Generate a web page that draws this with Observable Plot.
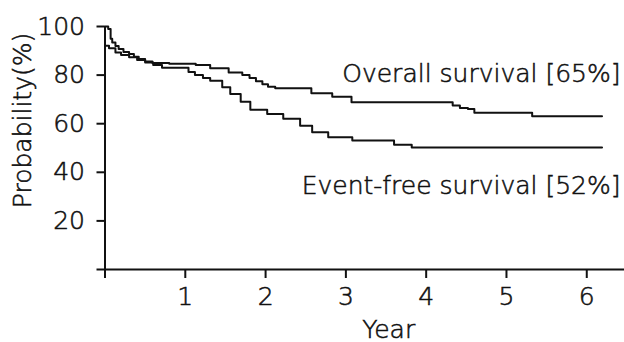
<!DOCTYPE html>
<html>
<head>
<meta charset="utf-8">
<script src="https://cdn.jsdelivr.net/npm/d3@7"></script>
<script src="https://cdn.jsdelivr.net/npm/@observablehq/plot@0.6"></script>
<style>
  html, body { margin: 0; padding: 0; background: #fff; }
  #chart { width: 624px; height: 342px; overflow: hidden; }
  #chart svg text { stroke: #111; stroke-width: 0.55px; }
</style>
</head>
<body>
<div id="chart"></div>
<script>
// Overall survival (Kaplan–Meier steps)
const osYears  = [0, 0.04, 0.07, 0.09, 0.13, 0.17, 0.23, 0.30, 0.36, 0.42, 0.50, 0.59, 0.80, 1.13, 1.31, 1.54, 1.71, 1.80, 1.88, 1.96, 2.03, 2.12, 2.57, 2.83, 3.07, 4.33, 4.42, 4.52, 4.60, 5.32, 6.19];
const osValues = [100, 99, 95, 93.4, 92, 90.7, 89.5, 88.7, 87.6, 86.6, 85.6, 85, 84.7, 84.2, 82.8, 81.1, 80.0, 78.8, 77.5, 76.2, 75.2, 74.6, 72.5, 71.1, 68.8, 67.5, 66.5, 66.1, 64.5, 63.1, 63.1];

// Event-free survival
const efsYears  = [0, 0.05, 0.13, 0.20, 0.30, 0.40, 0.50, 0.60, 0.71, 1.04, 1.12, 1.22, 1.31, 1.46, 1.56, 1.69, 1.81, 2.02, 2.22, 2.43, 2.58, 2.78, 3.08, 3.60, 3.82, 6.19];
const efsValues = [92.1, 91, 89.3, 88.3, 87.3, 86.2, 85.2, 84.2, 83.0, 81.3, 80.0, 78.8, 77.7, 75, 72.2, 69, 65.7, 64, 62, 59.2, 56.5, 54.4, 53.1, 51.3, 50.2, 50.2];

const seriesLabels = ["Overall survival [65%]", "Event-free survival [52%]"];
const xTicks = [0, 1, 2, 3, 4, 5, 6];
const yTicks = [0, 20, 40, 60, 80, 100];
const xTitle = "Year";
const yTitle = "Probability(%)";

const os = osYears.map((t, i) => ({t, v: osValues[i]}));
const efs = efsYears.map((t, i) => ({t, v: efsValues[i]}));

const ink = "#111";

const chart = Plot.plot({
  width: 624,
  height: 342,
  marginLeft: 104.5,
  marginRight: 0,
  marginTop: 26,
  marginBottom: 73,
  style: {fontFamily: "DejaVu Sans", fontSize: "25px", fontWeight: 300, color: ink, background: "#fff"},
  x: {domain: [0, 6.47]},
  y: {domain: [0, 100]},
  marks: [
    Plot.axisX({ticks: xTicks, tickFormat: d => d === 0 ? "" : d, tickSize: 9, tickPadding: 9, strokeWidth: 2, label: null, fontSize: 25}),
    Plot.axisY({ticks: yTicks, tickFormat: d => d === 0 ? "" : d, tickSize: 8, tickPadding: 12, strokeWidth: 2, label: null, fontSize: 25}),
    Plot.ruleY([0], {stroke: ink, strokeWidth: 2}),
    Plot.ruleX([0], {y1: 0, y2: 100, stroke: ink, strokeWidth: 2}),
    Plot.line(os, {x: "t", y: "v", curve: "step-after", stroke: ink, strokeWidth: 2}),
    Plot.line(efs, {x: "t", y: "v", curve: "step-after", stroke: ink, strokeWidth: 2}),
    Plot.text([os[os.length - 1]], {x: "t", y: "v", text: () => seriesLabels[0], textAnchor: "end", lineAnchor: "bottom", dx: 18.5, dy: -34, fontSize: 25, fill: ink}),
    Plot.text([efs[efs.length - 1]], {x: "t", y: "v", text: () => seriesLabels[1], textAnchor: "end", lineAnchor: "bottom", dx: 18.5, dy: 46, fontSize: 25, fill: ink}),
    Plot.text([xTitle], {frameAnchor: "bottom", text: d => d, textAnchor: "middle", lineAnchor: "bottom", dx: 24, dy: 68, fontSize: 25, fill: ink}),
    Plot.text([yTitle], {frameAnchor: "left", text: d => d, rotate: -90, textAnchor: "middle", lineAnchor: "middle", dx: -82.5, dy: -27.5, fontSize: 25, fill: ink})
  ]
});
document.getElementById("chart").appendChild(chart);
</script>
</body>
</html>
